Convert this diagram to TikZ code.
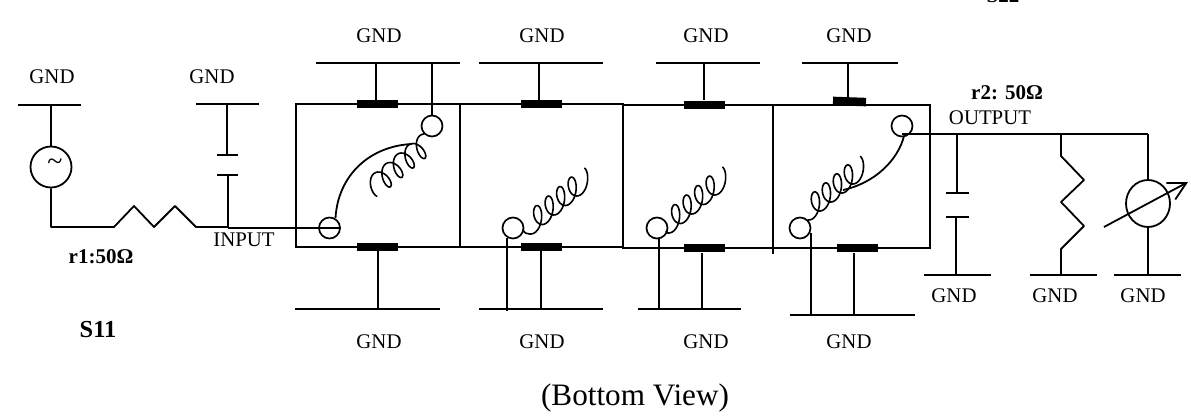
\documentclass[tikz,border=0pt]{standalone}
\usepackage{fontspec}
\setmainfont{Liberation Serif}
\usetikzlibrary{arrows.meta,shapes.geometric}
\newcommand{\coilpath}[9]{% x0 y0 driftx drifty loops ax ay hx hy
  \pgfmathsetmacro{\cT}{(#5+0.5)*360}
  \draw[coil] plot[smooth,samples=120,domain=0:\cT,variable=\t]
   ({#1+#3*(\t/360)+#6*sin(\t)+#8*(1-cos(\t))/2},
    {#2+#4*(\t/360)+#7*sin(\t)+#9*(1-cos(\t))/2});
}
\tikzset{
  x=1pt,y=-1pt,
  wire/.style={line width=1.8pt,black},
  coil/.style={line width=1.6pt,black,line cap=round},
  thin wire/.style={line width=1.3pt,black},
  lbl/.style={font=\fontsize{20.8}{24}\selectfont,inner sep=0pt},
  blbl/.style={font=\fontsize{21}{24}\selectfont\bfseries,inner sep=0pt},
  pad/.style={circle,draw,line width=1.7pt,minimum size=21pt,inner sep=0pt},
  contact/.style={rectangle,fill=black,minimum width=41pt,minimum height=8.5pt,inner sep=0pt},
  source/.style={circle,draw,line width=1.8pt,minimum size=41pt,inner sep=0pt},
  meter/.style={ellipse,draw,line width=1.8pt,minimum width=44pt,minimum height=47pt,inner sep=0pt}
}
\begin{document}
\begin{tikzpicture}
\useasboundingbox (0,0) rectangle (1191,417);
% text
\foreach \n/\xx/\yy in {a/52/77,b/212/77,c/379/36,d/542/36,e/706/36,f/849/36,
  g/379/342,h/542/342,i/706/342,j/849/342,k/954/296,l/1055/296,m/1143/296}
  \node[lbl] (gnd\n) at (\xx,\yy) {GND};
\node[lbl] (input) at (244,240) {INPUT};
\node[lbl] (output) at (990,118) {OUTPUT};
\node[blbl] (r1) at (101,257) {r1:50Ω};
\node[blbl] (r2) at (1007,93) {r2: 50Ω};
\node[font=\fontsize{24.4}{28}\selectfont\bfseries,inner sep=0pt] (s11) at (98,330) {S11};
\node[font=\fontsize{21}{24}\selectfont\bfseries,inner sep=0pt] (s22) at (1003,-4) {S22};
\node[font=\fontsize{31.2}{36}\selectfont,inner sep=0pt] (view) at (635,398) {(Bottom View)};
% module boxes
\draw[wire] (296,104) rectangle (460,247);
\draw[wire] (460,104) rectangle (623,247);
\draw[wire] (623,105) rectangle (773,248);
\draw[wire] (773,105) rectangle (930,248);
\draw[wire] (773,248) -- (773,254);
% contacts
\foreach \n/\xx/\yy in {ta/377.5/104,ba/377.5/247,tb/541.5/104,bb/541.5/247,tc/704.5/105,bc/704.5/248,bd/857.5/248}
  \node[contact] (\n) at (\xx,\yy) {};
\node[contact,minimum width=33pt,rotate=-2] (td) at (849.5,101.5) {};
% pads
\node[pad] (p1) at (329.5,228) {};
\node[pad] (p2) at (432,126) {};
\node[pad] (p3) at (513,228) {};
\node[pad] (p4) at (657,228) {};
\node[pad] (p5) at (800,228) {};
\node[pad] (p6) at (902,126) {};
% ground bars
\foreach \n/\xa/\xb/\yy in {sg/18/81/105,cg/196/259/104,ga/316/460/63,gb/479/603/63,gc/656/760/63,gd/802/898/63,
  ha/295/440/309,hb/479/603/309,hc/638/741/309,hd/790/915/315,
  og/924/991/275,rg/1030/1097/275,mg/1114/1181/275}{
  \coordinate (\n L) at (\xa,\yy); \coordinate (\n R) at (\xb,\yy);
  \draw[wire] (\n L) -- (\n R);
}
% source branch
\node[source] (src) at (51,167) {};
\node[font=\fontsize{28}{28}\selectfont,inner sep=0pt] (tilde) at (55,165) {\textasciitilde};
\draw[wire] (sgL -| src) -- (src.north);
\coordinate (corner) at (51,227);
\coordinate (rin) at (114,227);
\coordinate (rout) at (196,227);
\draw[wire,line join=round] (src.south) -- (corner) -- (rin) -- (134,206) -- (154,227) -- (175,206) -- (rout) -- (228,227);
\draw[thin wire] (228,228) -- (p1.east);
% input capacitor
\coordinate (cp1) at (227,155);
\coordinate (cp2) at (228,175);
\draw[wire] (cgL -| cp1) -- (cp1);
\draw[wire] (217,155) -- (238,155);
\draw[wire] (217,175) -- (238,175);
\draw[wire] (cp2) -- (228,227);
% stubs
\draw[wire] (376,63) -- (376,100);
\draw[wire] (432,63) -- (p2.north);
\draw[wire] (539,63) -- (539,100);
\draw[wire] (704,63) -- (704,100);
\draw[wire] (848,63) -- (848,97);
\draw[wire] (378,251) -- (378,309);
\draw[wire] (541,251) -- (541,309);
\draw[wire] (507,238) -- (507,311);
\draw[wire] (659,238) -- (659,309);
\draw[wire] (702,253) -- (702,309);
\draw[wire] (811,233) -- (811,315);
\draw[wire] (854,253) -- (854,315);
% arcs
\draw[wire] (335.5,218) .. controls (338,175) and (370,146) .. (412,144);
\draw[wire] (843,190) .. controls (875,183) and (898,160) .. (904,136);
% coils
\coilpath{424}{134}{-11.5}{9.5}{4}{-7}{-1}{4.5}{19.5}
\draw[coil] (523,230) .. controls (525,233.5) and (527,234) .. (530,234);
\coilpath{530}{234}{11.5}{-9.5}{4}{6.5}{2.5}{3}{-23}
\draw[coil] (666,231.5) .. controls (667,232.5) .. (668,233);
\coilpath{668}{233}{11.5}{-9.5}{4}{6.5}{2.5}{3}{-23}
\coilpath{808}{220}{11}{-9}{4}{6.5}{2.5}{3}{-23}
% output
\coordinate (oj) at (1148,134);
\coordinate (oj0) at (902,134);
\draw[wire] (oj0) -- (oj);
\node[meter] (met) at (1148,203.5) {};
\draw[wire] (oj) -- (met.north);
\draw[wire] (met.south) -- (1148,275);
\draw[wire,-{Straight Barb[length=17.6pt,width=18.8pt]}] (1104,227) -- (1188,182);
% output capacitor
\draw[wire] (957,134) -- (957,193);
\draw[wire] (946,193) -- (969,193);
\draw[wire] (946,217) -- (969,217);
\draw[wire] (956,217) -- (956,275);
% output resistor
\draw[wire,line join=round] (1061,134) -- (1061,156) -- (1084,180) -- (1061,202) -- (1084,226) -- (1061,249) -- (1061,275);
\end{tikzpicture}
\end{document}
